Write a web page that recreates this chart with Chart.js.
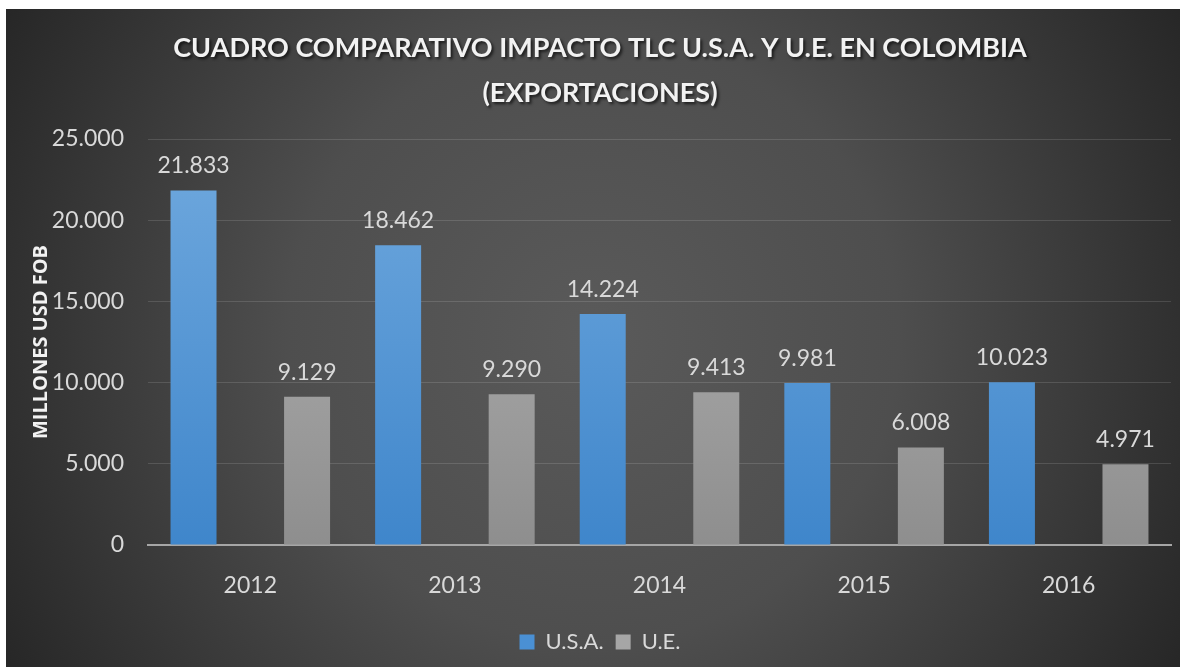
<!DOCTYPE html>
<html><head><meta charset="utf-8">
<script src="https://cdn.jsdelivr.net/npm/chart.js@4/dist/chart.umd.min.js"></script>
<style>
html,body{margin:0;padding:0;background:#fff;width:1180px;height:667px;overflow:hidden}
#wrap{position:absolute;left:6px;top:9px;width:1174px;height:658px}
canvas{display:block}
</style></head><body>
<div id="wrap"><canvas id="c" width="1174" height="658"></canvas></div>
<script>
const categories = ['2012', '2013', '2014', '2015', '2016'];
const usaValues = [21833, 18462, 14224, 9981, 10023];
const ueValues = [9129, 9290, 9413, 6008, 4971];
const seriesNames = ['U.S.A.', 'U.E.'];
const titleLines = ['CUADRO COMPARATIVO IMPACTO TLC U.S.A. Y U.E. EN COLOMBIA', '(EXPORTACIONES)'];
const yAxisTitle = 'MILLONES USD FOB';
const yMin = 0, yMax = 25000, yStep = 5000;

function fmt(v) {
  return String(Math.round(v)).replace(/\B(?=(\d{3})+(?!\d))/g, '.');
}
const FONT = 'Lato';
const TXT = '#d9d9d9';

function vGrad(ctx, area, top, bottom) {
  if (!area) return bottom;
  const g = ctx.createLinearGradient(0, area.top, 0, area.bottom);
  g.addColorStop(0, top); g.addColorStop(1, bottom);
  return g;
}

const bgPlugin = {
  id: 'bg',
  beforeDraw(chart) {
    const { ctx, width, height } = chart;
    const cx = width / 2, cy = height / 2;
    const g = ctx.createRadialGradient(cx, cy, 0, cx, cy, 680);
    g.addColorStop(0, '#5a5a5a');
    g.addColorStop(0.45, '#4e4e4e');
    g.addColorStop(1, '#262626');
    ctx.save(); ctx.fillStyle = g; ctx.fillRect(0, 0, width, height); ctx.restore();
  }
};

const labelPlugin = {
  id: 'vals',
  afterDatasetsDraw(chart) {
    const ctx = chart.ctx;
    ctx.save();
    ctx.font = '23px ' + FONT;
    ctx.fillStyle = TXT;
    ctx.textAlign = 'center';
    ctx.textBaseline = 'alphabetic';
    chart.data.datasets.forEach((ds, i) => {
      chart.getDatasetMeta(i).data.forEach((el, j) => {
        ctx.fillText(fmt(ds.data[j]), el.x, el.y - 17);
      });
    });
    ctx.restore();
  }
};

const chart = new Chart(document.getElementById('c'), {
  type: 'bar',
  data: {
    labels: categories,
    datasets: [
      { label: seriesNames[0], data: usaValues,
        backgroundColor: c => vGrad(c.chart.ctx, c.chart.chartArea, '#70a9de', '#3f86cb') },
      { label: seriesNames[1], data: ueValues,
        backgroundColor: c => vGrad(c.chart.ctx, c.chart.chartArea, '#b8b8b8', '#8e8e8e') }
    ]
  },
  options: {
    responsive: false,
    devicePixelRatio: 1,
    animation: false,
    categoryPercentage: 1.11,
    barPercentage: 0.405,
    layout: { padding: { left: 23, right: 9, top: 0, bottom: 4 } },
    plugins: {
      title: {
        display: true, text: titleLines, color: '#f2f2f2',
        font: { family: FONT, size: 27, weight: 'bold', lineHeight: 1.667 },
        padding: { top: 16.5, bottom: 23.5 }
      },
      legend: {
        position: 'bottom',
        labels: { color: TXT, font: { family: FONT, size: 22 }, boxWidth: 15, boxHeight: 15, padding: 12,
          generateLabels(chart) {
            const cols = ['#4a90d4', '#a6a6a6'];
            return chart.data.datasets.map((d, i) => ({ text: d.label, fillStyle: cols[i], strokeStyle: cols[i], lineWidth: 0, fontColor: TXT, datasetIndex: i, hidden: false }));
          } }
      },
      tooltip: { enabled: false }
    },
    scales: {
      x: {
        afterFit(s) { s.height = 74; },
        grid: { display: false },
        border: { display: true, color: '#a6a6a6', width: 2 },
        ticks: { color: TXT, font: { family: FONT, size: 23 }, padding: 19 }
      },
      y: {
        min: yMin, max: yMax,
        afterFit(s) { s.width = 119; },
        border: { display: false },
        grid: { color: 'rgba(255,255,255,0.13)', drawTicks: false, lineWidth: 1 },
        ticks: { stepSize: yStep, color: TXT, font: { family: FONT, size: 23 }, padding: 24, callback: v => fmt(v) },
        title: { display: true, text: yAxisTitle, color: '#f2f2f2', font: { family: 'Open Sans', size: 20, weight: 'bold' }, padding: { top: 0, bottom: 0 } }
      }
    }
  },
  plugins: [bgPlugin, labelPlugin]
});

const tb = chart.titleBlock;
if (tb) {
  const orig = tb.draw.bind(tb);
  tb.draw = function (a) {
    const ctx = chart.ctx;
    ctx.save();
    ctx.shadowColor = 'rgba(0,0,0,0.65)';
    ctx.shadowOffsetX = 2; ctx.shadowOffsetY = 2; ctx.shadowBlur = 3;
    orig(a);
    ctx.restore();
  };
  chart.draw();
}
</script>
</body></html>
